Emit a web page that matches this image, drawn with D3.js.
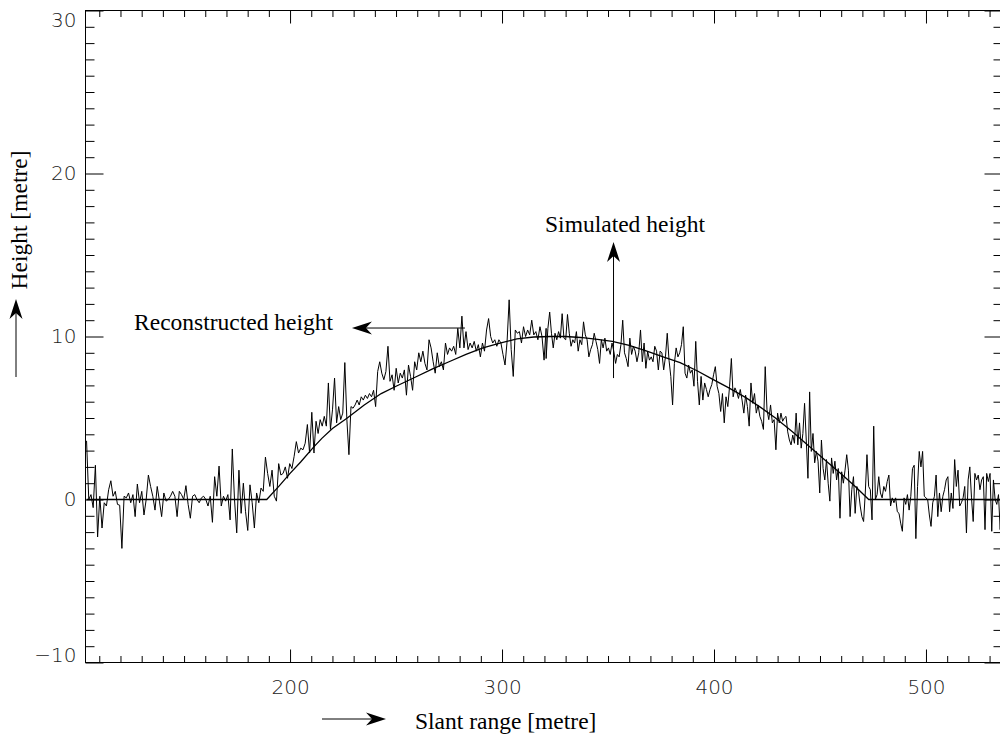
<!DOCTYPE html>
<html lang="en">
<head>
  <meta charset="UTF-8">
  <title>Height profile</title>
  <script src="https://d3js.org/d3.v7.min.js"></script>
  <style>
    body { margin: 0; background: #fff; }
    .tick text { font-family: "DejaVu Sans", sans-serif; font-weight: 200; font-size: 20px; fill: #222; }
    .tick line { stroke: #000; }
    .title { font-family: "Liberation Serif", serif; font-size: 23.5px; fill: #000; }
  </style>
</head>
<body>
  <div id="chart"></div>

  <script>
    // axis ticks
    const xMajor = [200, 300, 400, 500];
    const xMinor = d3.range(110, 540, 10).filter(v => v % 100 !== 0);
    const yMajor = [-10, 0, 10, 20, 30];
    const yMinor = d3.range(-9, 30, 1).filter(v => v % 10 !== 0);

    // simulated (smooth) height
    const simX = [104, 189, 195, 200, 205, 211, 215, 220, 227, 235, 243, 250, 259, 267, 275, 283, 291, 299, 307, 315, 323, 330,
                  337, 345, 352, 360, 368, 376, 384, 392, 399, 407, 415, 422, 429, 437, 445, 453, 461, 467, 473, 536];
    const simH = [0, 0, 0.85, 1.6, 2.3, 3.2, 3.75, 4.35, 5.0, 5.8, 6.5, 6.95, 7.5, 8.0, 8.45, 8.9, 9.3, 9.6, 9.85, 9.97, 10.0, 10.0,
                  9.94, 9.82, 9.7, 9.45, 9.12, 8.75, 8.4, 7.9, 7.4, 6.85, 6.25, 5.65, 5.0, 4.15, 3.25, 2.35, 1.45, 0.75, 0, 0];

    // reconstructed (noisy) height, read in four stretches of slant range
    const noiseRanges = [[104, 211.3], [211.3, 320.8], [320.8, 429.2], [429.2, 535.8]];
    const noiseA = [3.6,0.0,0.3,-0.5,2.1,-2.3,0.2,-1.75,-0.2,-0.4,
      0.6,1.15,0.2,0.5,-0.3,-0.35,-3.0,0.2,0.1,0.4,
      -0.2,0.3,-1.05,0.95,-0.2,0.5,-0.95,0,1.5,0.8,
      0.2,-0.65,0.8,-0.1,-1.05,0.4,-0.1,0,0.2,0.5,
      0.2,-1.05,0.5,0.3,0,0.85,-0.3,-1.15,0.2,0.3,
      0,-0.2,0.1,0.2,0,-0.4,0.2,-1.4,1.4,0.2,
      2.05,-0.4,0.2,-0.1,0.3,-1.25,3.1,0,-2.05,1.8,
      -0.85,1.0,-0.75,-1.9,0.9,-0.2,-1.75,0.4,-0.2,0.7,
      0.5,2.6,1.6,0.8,1.8,0.2,-0.1,2.2,1.5,1.6,
      2.0,1.3,2.2,1.9,2.65,3.55,2.85,3.15,3.05,3.45,
      4.6,2.85,5.35,2.85];
    const noiseB = [2.95,4.8,4.05,4.9,4.5,5.1,4.5,7.15,4.3,5.5,
      7.45,4.7,5.7,4.9,5.3,8.4,4.9,2.75,5.7,5.6,
      5.8,6.1,5.8,6.3,6.1,6.4,6.2,6.5,6.3,6.7,
      5.7,7.85,8.45,7.75,7.35,7.85,9.4,7.25,7.65,6.7,
      8.05,7.15,7.75,7.45,7.95,6.4,8.25,7.55,6.7,8.45,
      7.95,9.0,8.45,9.1,8.35,7.95,9.8,9.3,8.45,7.75,
      9.0,8.15,8.45,7.95,9.6,8.9,9.3,9.1,9.4,8.9,
      10.5,9.3,11.25,9.3,10.3,9.2,9.6,9.3,9.7,9.1,
      9.5,8.75,9.6,9.1,10.4,11.1,10.0,9.6,9.8,9.4,
      9.8,9.6,8.9,8.25,9.7,12.25,9.2,7.55,10.4,10.2,
      10.3,9.6,10.6,10.0,10.4,10.1,11.0,10.1,10.3,9.8,
      10.6,10.0,8.55,10.5];
    const noiseC = [8.65,10.5,11.5,10.2,9.3,10.2,9.8,10.3,9.9,11.4,
      9.9,9.8,11.35,10.2,9.4,9.8,9.6,10.3,9.1,9.8,
      9.5,10.9,10.1,9.8,8.75,9.2,9.5,10.2,9.7,9.2,
      8.35,9.8,9.3,9.9,9.1,9.3,8.9,9.6,9.1,8.35,
      8.9,8.75,9.5,11.0,9.0,8.65,8.15,9.9,8.9,9.4,
      9.1,8.45,9.0,10.4,8.45,9.6,8.05,9.1,8.55,8.75,
      8.45,9.4,9.1,7.95,9.1,9.0,7.95,8.75,10.2,8.55,
      7.55,5.8,8.35,9.3,8.75,9.0,9.5,10.6,7.75,7.45,
      8.25,7.75,7.95,6.95,9.7,7.25,5.8,7.55,6.1,7.15,
      6.75,6.3,6.75,7.05,7.65,8.15,6.95,6.5,5.4,6.5,
      4.7,6.3,5.7,6.95,8.65,6.3,6.85,6.6,6.2,6.75,
      6.1,5.3,6.4,5.7,4.5,7.15,5.9,6.5,5.3,5.8,
      5.1,4.8,4.3,8.15,5.5,4.9,5.8,4.7,4.9,3.05];
    const noiseD = [3.05,5.3,4.7,5.3,4.8,5.0,5.1,4.15,3.65,3.35,
      3.95,3.45,5.3,3.35,4.7,3.15,4.05,5.9,3.65,1.3,
      6.6,2.95,4.05,2.25,2.95,2.35,0.4,3.65,1.9,1.2,
      2.45,1.0,-0.1,2.55,1.6,2.35,1.2,1.9,-1.15,1.7,
      1.0,1.8,2.75,1.8,-1.05,0.6,1.4,-0.85,0.8,0.5,
      -0.4,-1.05,-1.35,0.4,2.75,0.8,0.6,-1.25,4.5,0,
      0.3,1.4,0.4,0.1,0.8,0.5,1.1,1.5,-0.4,0.1,
      -0.2,0.1,-0.75,-0.85,-1.45,-1.95,0.1,-0.3,0.3,-0.65,
      0.2,1.9,2.1,-2.4,0.8,2.95,2.0,2.95,0.2,0.1,
      0,-0.95,-1.65,-0.2,0.2,1.5,-1.05,0.4,-0.75,0.2,
      0.6,1.2,1.4,-0.75,0.4,-0.55,2.45,0.8,1.8,-0.4,
      -0.2,0.1,0.8,-2.05,1.2,2.0,0.1,-1.35,1.6,1.2,
      1.5,0.6,1.2,1.4,-1.85,1.6,1.1,1.6,-1.95,1.2,
      0,-0.3,0.3,-1.85,0.6];

    // annotation labels/arrows in data units: [text, textX, textY, anchor, arrowFrom, arrowTo]
    const notes = [
      ["Reconstructed height", 220.3, 10.4, "end", [282.5, 10.52], [229.2, 10.52]],
      ["Simulated height", 320.3, 16.4, "start", [352.6, 7.45], [352.6, 15.8]]
    ];

    const W = 1000, H = 740;
    const x = d3.scaleLinear().domain([103.5, 536.1]).range([85.5, 1002.5]);
    const y = d3.scaleLinear().domain([-10, 30]).range([662.5, 10.5]);

    const svg = d3.select("#chart").append("svg")
      .attr("width", W).attr("height", H);

    svg.append("defs").append("clipPath").attr("id", "plot")
      .append("rect")
      .attr("x", x.range()[0]).attr("y", y.range()[1])
      .attr("width", x.range()[1] - x.range()[0])
      .attr("height", y.range()[0] - y.range()[1]);

    // frame
    svg.append("rect")
      .attr("x", x.range()[0]).attr("y", y.range()[1])
      .attr("width", x.range()[1] - x.range()[0])
      .attr("height", y.range()[0] - y.range()[1])
      .attr("fill", "none").attr("stroke", "#000");

    function noDomain(g) { g.select(".domain").remove(); }

    // bottom / top ticks (pointing inwards)
    svg.append("g").attr("transform", `translate(0,${y.range()[0]})`)
      .call(d3.axisBottom(x).tickValues(xMajor).tickSize(-13).tickPadding(17)).call(noDomain);
    svg.append("g").attr("transform", `translate(0,${y.range()[0]})`)
      .call(d3.axisBottom(x).tickValues(xMinor).tickSize(-6.5).tickFormat("")).call(noDomain);
    svg.append("g").attr("transform", `translate(0,${y.range()[1]})`)
      .call(d3.axisTop(x).tickValues(xMajor).tickSize(-13).tickFormat("")).call(noDomain);
    svg.append("g").attr("transform", `translate(0,${y.range()[1]})`)
      .call(d3.axisTop(x).tickValues(xMinor).tickSize(-6.5).tickFormat("")).call(noDomain);

    // left / right ticks
    const yLeft = svg.append("g").attr("transform", `translate(${x.range()[0]},0)`)
      .call(d3.axisLeft(y).tickValues(yMajor).tickSize(-18).tickPadding(9)
        .tickFormat(d => d < 0 ? "\u2212" + Math.abs(d) : d)).call(noDomain);
    svg.append("g").attr("transform", `translate(${x.range()[0]},0)`)
      .call(d3.axisLeft(y).tickValues(yMinor).tickSize(-9).tickFormat("")).call(noDomain);
    svg.append("g").attr("transform", `translate(${x.range()[1]},0)`)
      .call(d3.axisRight(y).tickValues(yMajor).tickSize(-18).tickFormat("")).call(noDomain);
    svg.append("g").attr("transform", `translate(${x.range()[1]},0)`)
      .call(d3.axisRight(y).tickValues(yMinor).tickSize(-9).tickFormat("")).call(noDomain);

    // end labels are kept inside the frame
    yLeft.selectAll(".tick text").attr("y", d => d === 30 ? 9.3 : d === -10 ? -7.4 : 0);

    // data
    const line = d3.line().x(d => x(d[0])).y(d => y(d[1]));
    const plot = svg.append("g").attr("clip-path", "url(#plot)");

    const noisy = [];
    [noiseA, noiseB, noiseC, noiseD].forEach((vals, k) => {
      const [x0, x1] = noiseRanges[k];
      vals.forEach((v, i) => noisy.push([x0 + i * (x1 - x0) / (vals.length - 1), v]));
    });

    plot.append("path").datum(noisy)
      .attr("d", line).attr("fill", "none").attr("stroke", "#000").attr("stroke-width", 1);

    plot.append("path").datum(simX.map((v, i) => [v, simH[i]]))
      .attr("d", line).attr("fill", "none").attr("stroke", "#000").attr("stroke-width", 1.3);

    // arrows
    function arrow(g, x1, y1, x2, y2) {
      const a = Math.atan2(y2 - y1, x2 - x1);
      const len = 20, hw = 6.5, notch = 14;
      const p = (d, s) => [x2 - d * Math.cos(a) - s * Math.sin(a), y2 - d * Math.sin(a) + s * Math.cos(a)];
      g.append("line").attr("x1", x1).attr("y1", y1)
        .attr("x2", p(notch, 0)[0]).attr("y2", p(notch, 0)[1])
        .attr("stroke", "#000").attr("stroke-width", 1);
      g.append("path")
        .attr("d", "M" + [[x2, y2], p(len, hw), p(notch, 0), p(len, -hw)].map(q => q.join(",")).join("L") + "Z")
        .attr("fill", "#000");
    }

    notes.forEach(n => {
      svg.append("text").attr("class", "title")
        .attr("x", x(n[1])).attr("y", y(n[2])).attr("text-anchor", n[3]).text(n[0]);
      arrow(svg, x(n[4][0]), y(n[4][1]), x(n[5][0]), y(n[5][1]));
    });

    // axis titles with arrows
    svg.append("text").attr("class", "title").attr("x", 415).attr("y", 729).text("Slant range [metre]");
    arrow(svg, 322, 719, 386, 719);

    svg.append("text").attr("class", "title")
      .attr("transform", "translate(27,220) rotate(-90)")
      .attr("text-anchor", "middle").text("Height [metre]");
    arrow(svg, 16, 377, 16, 299);
  </script>
</body>
</html>
